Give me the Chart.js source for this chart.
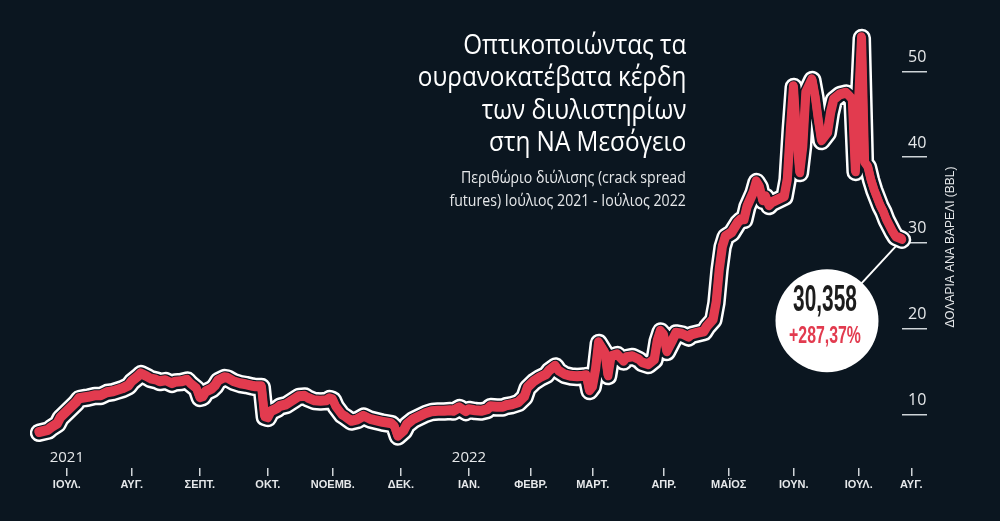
<!DOCTYPE html>
<html>
<head>
<meta charset="utf-8">
<script src="https://cdn.jsdelivr.net/npm/chart.js@4.4.0/dist/chart.umd.min.js"></script>
<style>
  html, body { margin: 0; padding: 0; background: #0b1620; }
  #wrap { position: relative; width: 1000px; height: 521px; background: #0b1620; overflow: hidden; }
  #chart { position: absolute; left: 0; top: 0; }
  #title { position: absolute; right: 314px; top: 28px; text-align: right; color: #ffffff;
           font-family: 'Open Sans', 'Noto Sans', sans-serif; font-size: 27px; line-height: 32.3px; white-space: nowrap;
           transform: scaleX(0.9); transform-origin: right top; }
  #sub { position: absolute; right: 314px; top: 165px; text-align: right; color: #e6e8ea;
         font-family: 'Open Sans', 'Noto Sans', sans-serif; font-size: 17px; line-height: 23px; white-space: nowrap;
         transform: scaleX(0.83); transform-origin: right top; }
</style>
</head>
<body>
<div id="wrap">
  <canvas id="chart" width="1000" height="521"></canvas>
  <div id="title">Οπτικοποιώντας τα<br>ουρανοκατέβατα κέρδη<br>των διυλιστηρίων<br>στη ΝΑ Μεσόγειο</div>
  <div id="sub">Περιθώριο διύλισης (crack spread<br>futures) Ιούλιος 2021 - Ιούλιος 2022</div>
</div>
<script>
// ---- data (trading-day index from 1 July 2021, value in $/bbl) ----
const days = [-9,-6,-5,-3,-2,0,1,3,4,6,7,9,11,13,15,16,18,20,21,23,24,26,27,29,30,32,34,35,37,39,40,42,43,44,45,47,48,49,51,52,54,56,58,60,61,63,64,65,66,68,69,71,72,74,75,77,78,80,82,84,85,86,87,89,90,92,94,96,98,100,102,103,105,106,107,109,110,112,114,116,118,120,122,124,125,127,129,130,132,134,136,137,139,141,142,144,146,148,149,151,153,155,156,158,159,161,163,165,167,168,169,170,171,172,174,175,176,178,180,181,183,185,186,188,190,191,192,193,194,196,197,199,201,202,204,206,207,209,210,211,212,213,215,217,218,219,220,222,223,224,225,226,227,228,230,232,233,234,235,236,237,238,239,241,242,243,244,246,247,248,250,252,253,254,255,257,258,259,260,261,263,264,265,267,268,270];
const values = [7.84,8.10,8.40,8.86,9.56,10.26,10.61,11.31,11.78,11.90,11.95,12.13,12.13,12.48,12.59,12.71,12.94,13.29,13.76,14.34,14.69,14.34,14.11,13.94,13.76,13.88,13.53,13.70,13.76,13.94,13.53,12.94,11.90,12.01,12.59,12.94,13.29,13.88,14.23,14.17,13.76,13.53,13.41,13.24,13.18,13.18,9.68,9.56,10.26,10.61,10.90,11.08,11.31,11.78,12.01,12.07,11.84,11.55,11.49,11.55,11.78,11.66,10.85,9.91,9.68,9.15,9.33,9.74,9.39,9.21,9.04,8.98,8.86,8.51,7.41,8.05,8.75,9.33,9.68,10.03,10.26,10.32,10.32,10.38,10.32,10.73,10.26,10.50,10.38,10.32,10.50,10.85,10.79,10.79,10.96,11.08,11.31,12.01,13.06,13.76,14.23,14.58,15.04,15.57,15.04,14.58,14.40,14.34,14.40,14.46,12.71,13.18,15.16,18.31,17.14,14.46,16.68,16.91,16.15,16.56,16.68,16.33,15.98,15.74,16.33,18.54,19.65,19.24,17.26,18.66,19.42,19.30,18.95,19.24,19.42,19.59,20.17,20.99,22.97,26.82,29.50,30.67,31.14,32.30,32.65,32.65,34.17,35.80,37.08,36.50,34.87,35.34,34.29,34.64,34.99,35.34,37.32,43.15,48.16,42.33,38.13,41.17,47.46,48.98,47.00,44.31,41.87,42.80,45.13,46.65,47.23,47.41,47.06,46.65,38.25,53.88,39.30,38.83,37.32,36.15,34.29,33.59,32.65,31.25,30.67,30.36];

const monthLabels = ['ΙΟΥΛ.','ΑΥΓ.','ΣΕΠΤ.','ΟΚΤ.','ΝΟΕΜΒ.','ΔΕΚ.','ΙΑΝ.','ΦΕΒΡ.','ΜΑΡΤ.','ΑΠΡ.','ΜΑΪΟΣ','ΙΟΥΝ.','ΙΟΥΛ.','ΑΥΓ.'];
const monthDays   = [0,21,43,65,86,108,130,150,170,193,214,235,256,273];
const yearLabels  = ['2021','2022'];
const yearDays    = [0,130];
const yTicks      = [10,20,30,40,50];
const yTitle      = 'ΔΟΛΑΡΙΑ ΑΝΑ ΒΑΡΕΛΙ (BBL)';
const lastLabel   = '30,358';
const changeLabel = '+287,37%';

const BG = '#0b1620';
const RED = '#e23b4f';
const AXIS = '#e6e8ea';

const points = days.map((d, i) => ({ x: d, y: values[i] }));

function layer(color, width, order) {
  return {
    data: points, borderColor: color, borderWidth: width, order: order,
    pointRadius: 0, pointHoverRadius: 0, tension: 0, clip: false,
    borderCapStyle: 'round', borderJoinStyle: 'round', fill: false
  };
}

const lineShadow = {
  id: 'lineShadow',
  beforeDatasetDraw(chart, args) {
    if (args.index === 0) {
      const c = chart.ctx;
      c.save();
      c.shadowColor = RED;
      c.shadowOffsetX = -0.5;
      c.shadowOffsetY = -1.5;
      c.shadowBlur = 0;
    }
  },
  afterDatasetDraw(chart, args) {
    if (args.index === 0) chart.ctx.restore();
  }
};

const annot = {
  id: 'annot',
  beforeDatasetsDraw(chart) {
    const meta = chart.getDatasetMeta(0);
    const p = meta.data[meta.data.length - 1];
    const c = chart.ctx;
    c.save();
    c.strokeStyle = '#ffffff';
    c.lineWidth = 2;
    c.beginPath();
    c.moveTo(p.x, p.y);
    c.lineTo(p.x - 75, p.y + 81);
    c.stroke();
    c.restore();
  },
  afterDatasetsDraw(chart) {
    const meta = chart.getDatasetMeta(0);
    const p = meta.data[meta.data.length - 1];
    const cx = p.x - 75, cy = p.y + 81;
    const c = chart.ctx;
    c.save();
    c.fillStyle = '#ffffff';
    c.beginPath();
    c.arc(cx, cy, 51.5, 0, Math.PI * 2);
    c.fill();
    c.textAlign = 'center';
    c.textBaseline = 'middle';
    c.save();
    c.translate(cx - 2, cy - 20);
    c.scale(0.58, 1);
    c.font = 'bold 36px "Liberation Sans Narrow", "Liberation Sans", sans-serif';
    c.fillStyle = '#1c1c1c';
    c.fillText(lastLabel, 0, 0);
    c.restore();
    c.save();
    c.translate(cx - 2, cy + 16);
    c.scale(0.66, 1);
    c.font = 'bold 24px "Liberation Sans Narrow", "Liberation Sans", sans-serif';
    c.fillStyle = RED;
    c.fillText(changeLabel, 0, 0);
    c.restore();
    c.restore();
  },
  afterDraw(chart) {
    const c = chart.ctx;
    c.save();
    c.translate(951, 247);
    c.rotate(-Math.PI / 2);
    c.font = '12px "Liberation Sans Narrow", "Liberation Sans", sans-serif';
    c.fillStyle = AXIS;
    c.textAlign = 'center';
    c.textBaseline = 'middle';
    c.fillText(yTitle, 0, 0);
    c.restore();
  }
};

new Chart(document.getElementById('chart'), {
  type: 'line',
  data: {
    datasets: [
      layer(RED, 8.5, 1),
      layer(BG, 13.5, 2),
      layer('#ffffff', 18.5, 3)
    ]
  },
  options: {
    responsive: false,
    animation: false,
    events: [],
    layout: { padding: { left: 39, right: 72, top: 28.4, bottom: 30.8 } },
    plugins: { legend: { display: false }, tooltip: { enabled: false } },
    scales: {
      x: {
        type: 'linear', position: 'bottom', weight: 1, min: -9, max: 270,
        afterBuildTicks: s => { s.ticks = monthDays.map(v => ({ value: v })); },
        afterFit: s => { s.height = 22.2; },
        grid: { drawOnChartArea: false, drawTicks: true, tickLength: 8, color: '#cfd4d8', lineWidth: 1.5 },
        border: { display: false },
        ticks: {
          autoSkip: false, maxRotation: 0, minRotation: 0, padding: 2, color: AXIS,
          font: { family: '"Liberation Sans Narrow", "Liberation Sans", sans-serif', size: 11, weight: 'bold' },
          callback: (v, i) => monthLabels[i]
        }
      },
      xYear: {
        type: 'linear', position: 'bottom', weight: 0, min: -9, max: 270,
        afterBuildTicks: s => { s.ticks = yearDays.map(v => ({ value: v })); },
        afterFit: s => { s.height = 22; },
        grid: { display: false, drawTicks: false },
        border: { display: false },
        ticks: {
          autoSkip: false, maxRotation: 0, minRotation: 0, padding: 2.5, color: AXIS,
          font: { family: '"Open Sans", sans-serif', size: 15 },
          callback: (v, i) => yearLabels[i]
        }
      },
      y: {
        type: 'linear', position: 'right', min: 6.3, max: 55,
        afterBuildTicks: s => { s.ticks = yTicks.map(v => ({ value: v })); },
        afterFit: s => { s.width = 26; },
        grid: { drawOnChartArea: false, drawTicks: true, tickLength: 25, color: '#cfd4d8', lineWidth: 1.5 },
        border: { display: false },
        ticks: {
          padding: -19, labelOffset: -14, color: AXIS,
          font: { family: '"Open Sans", sans-serif', size: 16 }
        }
      }
    }
  },
  plugins: [lineShadow, annot]
});
</script>
</body>
</html>
